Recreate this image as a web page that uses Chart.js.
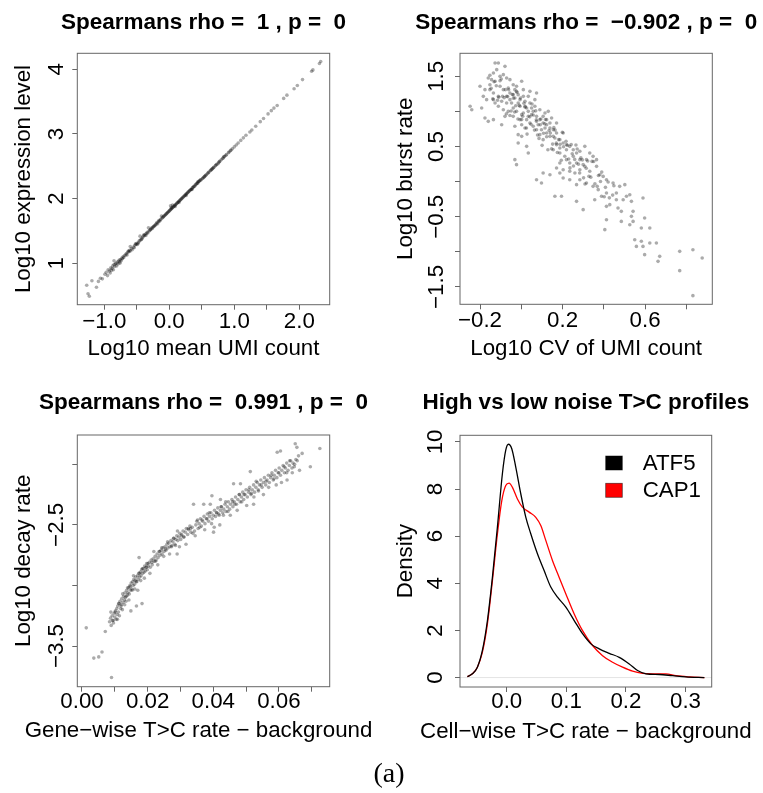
<!DOCTYPE html>
<html><head><meta charset="utf-8">
<script src="https://cdn.jsdelivr.net/npm/chart.js@4/dist/chart.umd.min.js"></script>
<style>
html,body{margin:0;padding:0;background:#fff;}
#wrap{position:relative;width:763px;height:793px;overflow:hidden;background:#fff;}
canvas{position:absolute;}
#cap{position:absolute;left:0;width:778px;top:759px;text-align:center;font-family:'Liberation Serif','Times New Roman',serif;font-size:28px;line-height:28px;color:#000;}
</style></head><body>
<div id="wrap">
<canvas id="c1" width="381" height="380" style="left:0;top:0"></canvas>
<canvas id="c2" width="382" height="380" style="left:381px;top:0"></canvas>
<canvas id="c3" width="381" height="380" style="left:0;top:380px"></canvas>
<canvas id="c4" width="382" height="380" style="left:381px;top:380px"></canvas>
<div id="cap">(a)</div>
</div>
<script>
// ---------- Panel 1: Log10 mean UMI count vs Log10 expression level ----------
const expressionPoints = [
[-1.27,0.66],[-1.25,0.53],[-1.23,0.49],[-1.19,0.73],[-1.12,0.63],[-1.09,0.72],[-1.06,0.77],[-1.03,0.76],[-0.99,0.83],[-0.97,0.86],[-0.95,0.81],[-0.94,0.90],[-0.92,0.88],[-0.91,0.85],[-0.90,0.93],[-0.88,0.92],[-0.87,0.96],[-0.86,0.90],[-0.85,0.98],[-0.84,0.95],[-0.83,0.99],[-0.82,1.00],[-0.81,0.96],[-0.80,1.02],[-0.79,0.99],[-0.78,1.03],[-0.77,1.05],[-0.76,1.02],[-0.75,1.06],[-0.74,1.04],[-0.73,1.08],[-0.72,1.07],[-0.71,1.10],[-0.70,1.09],[-0.69,1.12],[-0.67,1.13],[-0.66,1.15],[-0.65,1.13],[-0.64,1.17],[-0.62,1.18],[-0.61,1.20],[-0.60,1.19],[-0.58,1.23],[-0.57,1.21],[-0.55,1.25],[-0.54,1.24],[-0.53,1.28],[-0.51,1.29],[-0.50,1.31],[-0.49,1.29],[-0.47,1.33],[-0.46,1.35],[-0.45,1.42],[-0.44,1.36],[-0.42,1.38],[-0.41,1.40],[-0.40,1.42],[-0.38,1.43],[-0.37,1.45],[-0.35,1.46],[-0.34,1.48],[-0.33,1.47],[-0.31,1.50],[-0.30,1.51],[-0.28,1.53],[-0.27,1.55],[-0.26,1.54],[-0.24,1.57],[-0.23,1.58],[-0.21,1.60],[-0.20,1.61],[-0.19,1.63],[-0.17,1.64],[-0.16,1.66],[-0.15,1.65],[-0.14,1.67],[-0.12,1.73],[-0.11,1.70],[-0.10,1.71],[-0.08,1.73],[-0.07,1.74],[-0.06,1.75],[-0.04,1.77],[-0.03,1.78],[-0.02,1.79],[-0.01,1.80],[0.00,1.81],[0.02,1.83],[0.02,1.89],[0.03,1.84],[0.05,1.86],[0.06,1.87],[0.07,1.88],[0.09,1.90],[0.10,1.91],[0.11,1.92],[0.13,1.94],[0.14,1.95],[0.15,1.96],[0.17,1.98],[0.18,1.99],[0.20,2.01],[0.21,2.02],[0.23,2.04],[0.24,2.05],[0.26,2.07],[0.27,2.08],[0.29,2.10],[0.30,2.11],[0.32,2.13],[0.34,2.14],[0.35,2.16],[0.37,2.18],[0.39,2.19],[0.40,2.21],[0.42,2.23],[0.44,2.24],[0.45,2.26],[0.47,2.28],[0.49,2.29],[0.51,2.31],[0.53,2.33],[0.55,2.35],[0.57,2.37],[0.59,2.39],[0.61,2.41],[0.63,2.43],[0.65,2.45],[0.67,2.47],[0.69,2.49],[0.71,2.51],[0.73,2.53],[0.76,2.56],[0.78,2.58],[0.80,2.60],[0.83,2.63],[0.85,2.65],[0.88,2.68],[0.91,2.71],[0.94,2.74],[0.97,2.77],[1.00,2.80],[1.03,2.83],[1.06,2.86],[1.10,2.90],[1.14,2.94],[1.18,2.98],[1.24,3.03],[1.27,3.06],[1.33,3.12],[1.40,3.19],[1.45,3.24],[1.52,3.31],[1.57,3.36],[1.61,3.40],[1.66,3.44],[1.76,3.55],[1.81,3.60],[1.92,3.70],[1.97,3.75],[2.05,3.84],[2.19,3.97],[2.21,3.99],[2.31,4.09],[2.33,4.12],
[-0.48,1.31],[-0.43,1.37],[-0.36,1.43],[-0.29,1.52],[-0.22,1.58],[-0.13,1.68],[-0.05,1.76],[0.01,1.82],[0.04,1.85],[0.08,1.89],[0.12,1.93],[0.16,1.97],[0.19,2.00],[0.22,2.03],[0.25,2.06],[0.28,2.09],[0.31,2.12],[0.33,2.14],[0.36,2.17],[0.38,2.19],[0.41,2.22],[0.43,2.24],[0.46,2.27],[0.48,2.29],[0.52,2.32],[0.56,2.36],[0.60,2.40],[0.64,2.44],[0.68,2.48],[0.72,2.52],[0.77,2.57],[0.82,2.62],[0.87,2.67],[0.92,2.72],
[-0.60,1.26],[-0.85,1.04],[-0.32,1.55],[0.05,1.90],[-0.89,0.89],[-0.76,1.00],[-0.63,1.19],[-0.52,1.30],[-0.39,1.44],[-0.25,1.56],[-0.18,1.61],[-0.09,1.72],[0.03,1.86],[0.09,1.88],[0.15,1.94],[0.26,2.05],[0.35,2.14],[0.44,2.26],[0.54,2.34],[0.66,2.46],[0.75,2.54],[0.84,2.65],[0.95,2.75]
];
const umiTicks = [-1.0,-0.5,0,0.5,1.0,1.5,2.0];
const umiTickLabels = ['\u22121.0','','0.0','','1.0','','2.0'];
const exprTicks = [1,2,3,4];
const exprTickLabels = ['1','2','3','4'];

// ---------- Panel 2: Log10 CV of UMI count vs Log10 burst rate ----------
const burstPoints = [
[-0.127,1.690],[-0.111,1.690],[-0.079,1.642],[-0.119,1.595],[-0.135,1.547],[-0.160,1.476],[-0.144,1.453],[-0.127,1.429],[-0.103,1.500],[-0.087,1.524],[-0.071,1.476],[-0.055,1.453],[-0.039,1.381],[-0.023,1.358],[0.002,1.429],[-0.031,1.310],[-0.015,1.239],[-0.006,1.168],[-0.047,1.120],[-0.071,1.120],[-0.095,1.144],[-0.111,1.215],[-0.135,1.263],[-0.152,1.310],[-0.176,1.310],[-0.184,1.215],[-0.168,1.168],[-0.135,1.168],[-0.200,1.358],[-0.248,1.073],[-0.240,1.025],[-0.192,1.049],[-0.176,0.906],[-0.160,0.859],[-0.135,0.883],[-0.095,0.811],[-0.079,0.930],[-0.039,0.930],[-0.031,0.788],[0.002,0.811],[0.010,0.978],[0.026,1.049],[0.042,1.120],[0.066,1.168],[0.034,1.215],[0.058,1.001],[0.074,0.930],[0.090,0.883],[0.106,0.930],[0.123,0.883],[0.139,0.835],[0.171,0.835],[0.155,0.740],[0.123,0.693],[0.090,0.669],[0.106,0.598],[0.139,0.645],[0.171,0.693],[0.187,0.598],[0.203,0.693],[0.203,0.550],[0.171,0.527],[0.155,0.455],[0.187,0.408],[0.219,0.455],[0.235,0.503],[0.252,0.455],[0.268,0.408],[0.284,0.432],[0.308,0.503],[0.332,0.408],[0.348,0.360],[0.365,0.313],[0.316,0.313],[0.300,0.242],[0.268,0.265],[0.235,0.265],[0.219,0.313],[0.187,0.265],[0.171,0.194],[0.203,0.170],[0.235,0.147],[0.260,0.123],[0.284,0.170],[0.308,0.218],[0.332,0.147],[0.365,0.218],[0.381,0.099],[0.397,0.075],[0.413,0.028],[0.445,-0.019],[0.477,-0.067],[0.502,-0.043],[0.461,-0.162],[0.413,-0.162],[0.389,-0.209],[0.373,-0.114],[0.348,-0.067],[0.316,-0.019],[0.284,0.028],[0.268,-0.043],[0.235,0.028],[0.203,0.052],[0.187,0.123],[0.139,0.099],[0.106,0.123],[0.098,-0.019],[0.074,0.028],[0.034,0.408],[0.026,0.503],[0.002,0.645],[-0.015,0.669],[-0.031,0.313],[-0.023,0.242],[-0.015,0.550],[0.163,-0.209],[0.195,-0.209],[0.268,-0.281],[0.300,-0.399],[0.356,-0.257],[0.413,-0.352],[0.429,-0.328],[0.461,-0.257],[0.469,-0.376],[0.485,-0.423],[0.494,-0.257],[0.510,-0.209],[0.526,-0.186],[0.534,-0.281],[0.542,-0.423],[0.590,-0.233],[0.413,-0.542],[0.485,-0.566],[0.534,-0.494],[0.542,-0.566],[0.526,-0.613],[0.582,-0.660],[0.598,-0.518],[0.623,-0.660],[0.405,-0.684],[0.550,-0.827],[0.582,-0.850],[0.623,-0.874],[0.655,-0.874],[0.590,-0.922],[0.558,-0.922],[0.598,-1.040],[0.663,-1.135],[0.671,-1.064],[0.768,-0.993],[0.832,-0.969],[0.877,-1.088],[0.768,-1.268],[0.832,-1.624],
[0.050,1.049],[0.066,1.073],[0.090,1.025],[0.115,0.978],[0.131,1.001],[0.026,0.883],[0.042,0.835],[0.058,0.788],[0.074,0.740],[0.082,0.811],[0.098,0.740],[0.115,0.764],[0.139,0.764],[0.155,0.645],[0.018,0.764],[-0.006,0.883],[-0.055,1.263],[-0.063,1.334],[-0.039,1.239],[-0.023,1.286],[0.010,1.215],[0.018,1.144],[0.050,0.954],[-0.006,1.073],[-0.039,1.049],[-0.063,1.001],[-0.087,1.025],[-0.111,1.073],[-0.127,1.120],[-0.152,1.381],[-0.103,1.358],[-0.087,1.310],[-0.071,1.215],[0.010,1.310],[0.042,1.286],[0.074,1.263],[-0.015,1.120],[0.018,1.073],[0.034,1.001],[0.002,0.954],[-0.023,1.001],[-0.055,1.168],[-0.031,1.191],[0.074,0.859],[0.123,0.811],[0.147,0.906],[0.106,0.835],[0.163,0.622],[0.187,0.479],[0.219,0.527],[0.252,0.360],[0.284,0.313],
[-0.152,1.515],[-0.138,1.179],[-0.121,1.365],[-0.109,1.203],[-0.097,1.462],[-0.083,1.196],[-0.072,0.967],[-0.061,1.309],[-0.049,1.007],[-0.038,1.189],[-0.027,1.080],[-0.016,0.892],[-0.004,1.190],[0.007,0.932],[0.019,1.061],[0.028,0.677],[0.041,0.923],[0.052,1.105],[0.064,0.734],[0.073,0.880],[0.086,0.616],[0.095,0.893],[0.108,0.689],[0.117,0.886],[0.129,0.455],[0.141,0.693],[0.152,0.535],[0.164,0.734],[0.175,0.415],[0.188,0.531],[0.199,0.703],[0.211,0.361],[0.224,0.518],[0.236,0.196],[0.247,0.398],[0.259,0.317],[0.271,0.465],[0.283,0.124],[0.296,0.310],[0.309,-0.033],[0.322,0.293],[0.337,0.064],[0.351,0.287],[0.368,-0.067],[0.384,0.002],[0.402,-0.215],[0.421,-0.005],[0.443,-0.192],
[-0.146,1.329],[-0.132,1.423],[-0.115,1.159],[-0.103,1.437],[-0.091,1.216],[-0.077,1.310],[-0.066,1.211],[-0.055,0.943],[-0.043,1.241],[-0.032,0.993],[-0.021,1.274],[-0.010,1.086],[0.002,0.884],[0.013,1.116],[0.025,0.765],[0.034,0.931],[0.047,0.817],[0.058,0.949],[0.070,1.008],[0.079,0.664],[0.092,0.810],[0.101,0.517],[0.114,0.823],[0.123,0.640],[0.135,0.729],[0.147,0.467],[0.158,0.769],[0.170,0.548],[0.181,0.599],[0.194,0.305],[0.205,0.497],[0.217,0.575],[0.230,0.322],[0.242,0.530],[0.253,0.222],[0.265,0.521],[0.277,0.249],[0.289,0.338],[0.302,0.054],[0.315,0.191],[0.328,0.077],[0.343,0.288],[0.357,-0.029],[0.374,0.087],[0.390,0.136],[0.408,-0.081],[0.427,-0.231],[0.449,-0.058]
];
const cvTicks = [-0.2,0,0.2,0.4,0.6,0.8];
const cvTickLabels = ['\u22120.2','','0.2','','0.6',''];
const burstTicks = [-1.5,-1,-0.5,0,0.5,1,1.5];
const burstTickLabels = ['\u22121.5','','\u22120.5','','0.5','','1.5'];

// ---------- Panel 3: Gene-wise T>C rate vs Log10 decay rate ----------
const decayPoints = [
[0.0013,-3.35],[0.0036,-3.60],[0.0051,-3.59],[0.0061,-3.55],[0.0071,-3.38],[0.0090,-3.76],
[0.0084,-3.30],[0.0087,-3.27],[0.0089,-3.33],[0.0092,-3.25],[0.0093,-3.29],[0.0096,-3.31],
[0.0098,-3.23],[0.0100,-3.26],[0.0102,-3.21],[0.0104,-3.28],[0.0106,-3.19],[0.0107,-3.24],
[0.0109,-3.17],[0.0111,-3.22],[0.0112,-3.15],[0.0114,-3.25],[0.0116,-3.13],[0.0118,-3.19],
[0.0120,-3.16],[0.0121,-3.11],[0.0123,-3.20],[0.0125,-3.14],[0.0127,-3.09],[0.0129,-3.12],
[0.0131,-3.06],[0.0132,-3.10],[0.0134,-3.13],[0.0136,-3.04],[0.0138,-3.08],[0.0140,-3.06],
[0.0142,-3.02],[0.0144,-3.07],[0.0146,-3.00],[0.0148,-3.04],[0.0149,-3.21],[0.0150,-2.98],
[0.0152,-3.03],[0.0154,-2.97],[0.0156,-3.00],[0.0158,-2.95],[0.0160,-2.99],[0.0162,-2.96],
[0.0164,-2.93],[0.0166,-3.17],[0.0167,-2.97],[0.0169,-2.92],[0.0171,-2.95],[0.0173,-2.90],
[0.0174,-2.77],[0.0176,-2.93],[0.0178,-2.89],[0.0180,-2.92],[0.0182,-2.87],[0.0183,-3.15],
[0.0185,-2.90],[0.0187,-2.86],[0.0189,-2.89],[0.0191,-2.84],[0.0193,-2.88],[0.0195,-2.85],
[0.0197,-2.82],[0.0199,-2.87],[0.0202,-2.84],[0.0205,-2.81],[0.0208,-2.85],[0.0211,-2.79],
[0.0214,-2.83],[0.0217,-2.78],[0.0220,-2.80],[0.0223,-2.76],[0.0226,-2.79],[0.0229,-2.74],
[0.0232,-2.77],[0.0235,-2.72],[0.0238,-2.75],[0.0241,-2.71],[0.0244,-2.74],[0.0247,-2.69],
[0.0250,-2.72],[0.0253,-2.68],[0.0256,-2.71],[0.0259,-2.66],[0.0262,-2.69],[0.0265,-2.65],
[0.0268,-2.68],[0.0271,-2.63],[0.0274,-2.67],[0.0277,-2.64],[0.0280,-2.61],[0.0283,-2.66],
[0.0286,-2.62],[0.0289,-2.59],[0.0290,-2.74],[0.0292,-2.63],[0.0295,-2.60],[0.0298,-2.57],
[0.0301,-2.62],[0.0304,-2.58],[0.0308,-2.55],[0.0311,-2.60],[0.0315,-2.56],[0.0318,-2.53],
[0.0322,-2.58],[0.0325,-2.54],[0.0329,-2.51],[0.0332,-2.56],[0.0336,-2.52],[0.0340,-2.33],
[0.0343,-2.55],[0.0347,-2.50],[0.0350,-2.47],[0.0354,-2.53],[0.0357,-2.49],[0.0361,-2.45],
[0.0364,-2.51],[0.0368,-2.47],[0.0371,-2.33],[0.0372,-2.43],[0.0375,-2.49],[0.0379,-2.45],
[0.0382,-2.41],[0.0386,-2.47],[0.0389,-2.43],[0.0391,-2.33],[0.0393,-2.40],[0.0396,-2.26],
[0.0397,-2.45],[0.0400,-2.42],[0.0401,-2.56],[0.0404,-2.38],[0.0407,-2.43],[0.0411,-2.40],
[0.0414,-2.36],[0.0418,-2.42],[0.0420,-2.50],[0.0422,-2.29],[0.0422,-2.38],[0.0425,-2.35],
[0.0429,-2.40],[0.0432,-2.37],[0.0436,-2.33],[0.0439,-2.39],[0.0443,-2.35],[0.0446,-2.31],
[0.0450,-2.37],[0.0453,-2.33],[0.0457,-2.29],[0.0460,-2.35],[0.0462,-2.16],[0.0464,-2.31],
[0.0468,-2.27],[0.0471,-2.33],[0.0475,-2.29],[0.0479,-2.25],[0.0482,-2.31],[0.0483,-2.16],
[0.0486,-2.27],[0.0490,-2.23],[0.0493,-2.29],[0.0497,-2.25],[0.0500,-2.21],[0.0504,-2.27],
[0.0508,-2.23],[0.0511,-2.19],[0.0513,-2.06],[0.0515,-2.25],[0.0519,-2.21],[0.0523,-2.33],
[0.0523,-2.17],[0.0526,-2.23],[0.0530,-2.19],[0.0534,-2.15],[0.0537,-2.21],[0.0541,-2.17],
[0.0545,-2.13],[0.0549,-2.19],[0.0553,-2.15],[0.0556,-2.11],[0.0560,-2.17],[0.0564,-2.13],
[0.0568,-2.09],[0.0571,-2.15],[0.0575,-2.11],[0.0579,-2.07],[0.0583,-2.13],[0.0586,-2.09],
[0.0590,-2.05],[0.0594,-2.11],[0.0595,-1.90],[0.0598,-2.07],[0.0601,-2.03],[0.0605,-1.89],
[0.0605,-2.09],[0.0609,-2.05],[0.0613,-2.01],[0.0617,-2.07],[0.0620,-2.03],[0.0624,-1.99],
[0.0625,-2.13],[0.0628,-2.05],[0.0632,-2.01],[0.0636,-1.97],[0.0640,-2.03],[0.0643,-1.99],
[0.0647,-2.02],[0.0650,-1.83],[0.0652,-1.96],[0.0655,-1.86],[0.0660,-1.93],[0.0671,-1.91],
[0.0696,-2.02],[0.0725,-1.87],
[0.0088,-3.22],[0.0095,-3.29],[0.0101,-3.22],[0.0108,-3.28],[0.0113,-3.15],[0.0119,-3.17],[0.0124,-3.07],[0.0130,-3.16],[0.0135,-3.09],[0.0139,-3.02],
[0.0143,-3.12],[0.0147,-3.01],[0.0153,-3.04],[0.0157,-2.92],[0.0161,-3.03],[0.0165,-2.97],[0.0170,-3.04],[0.0175,-2.90],[0.0179,-2.96],[0.0184,-2.86],
[0.0190,-2.94],[0.0196,-2.85],[0.0201,-2.82],[0.0207,-2.90],[0.0213,-2.81],[0.0219,-2.72],[0.0224,-2.80],[0.0231,-2.83],[0.0237,-2.72],[0.0243,-2.69],
[0.0249,-2.76],[0.0255,-2.70],[0.0261,-2.64],[0.0267,-2.74],[0.0273,-2.68],[0.0279,-2.61],[0.0285,-2.67],[0.0291,-2.55],[0.0297,-2.68],[0.0303,-2.59],
[0.0310,-2.60],[0.0317,-2.66],[0.0324,-2.53],[0.0331,-2.53],[0.0338,-2.57],[0.0345,-2.59],[0.0352,-2.46],[0.0359,-2.52],[0.0366,-2.46],[0.0374,-2.54],
[0.0381,-2.45],[0.0388,-2.40],[0.0395,-2.49],[0.0403,-2.52],[0.0410,-2.40],[0.0417,-2.41],[0.0424,-2.35],[0.0431,-2.42],[0.0438,-2.31],[0.0445,-2.39],
[0.0452,-2.42],[0.0459,-2.31],[0.0466,-2.33],[0.0473,-2.38],[0.0480,-2.25],[0.0487,-2.31],[0.0494,-2.25],[0.0502,-2.34],[0.0509,-2.21],[0.0516,-2.24],
[0.0524,-2.27],[0.0531,-2.14],[0.0538,-2.22],[0.0546,-2.17],[0.0553,-2.25],[0.0561,-2.14],[0.0569,-2.19],[0.0577,-2.09],[0.0585,-2.12],[0.0592,-2.17],
[0.0600,-2.07],[0.0608,-2.15],[0.0616,-2.02],[0.0624,-2.07],[0.0633,-1.97],[0.0641,-2.07],[0.0648,-2.00],[0.0656,-1.97],[0.0663,-2.05]
];
const rateTicks = [0,0.01,0.02,0.03,0.04,0.05,0.06,0.07];
const rateTickLabels = ['0.00','','0.02','','0.04','','0.06',''];
const decayTicks = [-3.5,-3.0,-2.5,-2.0];
const decayTickLabels = ['\u22123.5','','\u22122.5',''];

// ---------- Panel 4: density of cell-wise T>C rate ----------
const seriesNames = ['ATF5','CAP1'];
const seriesColors = ['#000000','#ff0000'];
const atf5X = [-0.0661,-0.0577,-0.0493,-0.0409,-0.0325,-0.0241,-0.0157,-0.0073,-0.0017,0.0028,0.0084,0.0151,0.0235,0.0319,0.0403,0.0515,0.0627,0.0739,0.0852,0.0992,0.1132,0.1272,0.1412,0.1552,0.1720,0.1888,0.2056,0.2196,0.2336,0.2560,0.2784,0.3008,0.3317];
const atf5Y = [0.04,0.16,0.44,1.15,2.41,4.25,6.39,8.66,9.65,9.90,9.71,8.93,7.80,6.81,6.10,5.25,4.54,3.84,3.41,2.99,2.42,1.86,1.43,1.22,1.03,0.86,0.58,0.30,0.16,0.13,0.08,0.03,0.00];
const cap1X = [-0.0661,-0.0577,-0.0493,-0.0409,-0.0325,-0.0241,-0.0157,-0.0084,-0.0017,0.0039,0.0095,0.0179,0.0263,0.0375,0.0487,0.0571,0.0655,0.0767,0.0880,0.0992,0.1132,0.1272,0.1440,0.1608,0.1776,0.1944,0.2112,0.2280,0.2448,0.2672,0.2840,0.3064,0.3317];
const cap1Y = [0.04,0.16,0.44,1.08,2.28,4.11,6.09,7.50,8.15,8.25,8.07,7.58,7.23,7.02,6.80,6.45,5.82,4.97,4.25,3.55,2.70,1.99,1.36,0.93,0.65,0.44,0.27,0.18,0.16,0.16,0.08,0.03,0.00];
const cellTicks = [0,0.1,0.2,0.3];
const cellTickLabels = ['0.0','0.1','0.2','0.3'];
const densTicks = [0,2,4,6,8,10];
const densTickLabels = ['0','2','4','6','8','10'];

// ---------- helpers ----------
const FONT = "'Liberation Sans', Arial, Helvetica, sans-serif";
const FS = 22.3;
const AXIS_COLOR = '#666666';
const POINT_COLOR = 'rgba(0,0,0,0.33)';

const boxPlugin = {
  id: 'plotBox',
  afterDraw(chart) {
    const a = chart.chartArea, c = chart.ctx;
    c.save();
    c.strokeStyle = AXIS_COLOR; c.lineWidth = 1;
    c.strokeRect(a.left, a.top, a.right - a.left, a.bottom - a.top);
    c.restore();
  }
};

// main title and x-axis title, centred on the plot region without squeezing
const panelTextPlugin = {
  id: 'panelText',
  afterDraw(chart, args, o) {
    const a = chart.chartArea, c = chart.ctx, cx = (a.left + a.right) / 2;
    c.save();
    c.fillStyle = '#000'; c.textAlign = 'center'; c.textBaseline = 'middle';
    c.font = 'bold 22.5px ' + FONT;
    c.fillText(o.title, cx, o.titleY);
    c.font = FS + 'px ' + FONT;
    c.fillText(o.xTitle, cx + (o.xShift || 0), o.xTitleY);
    c.restore();
  }
};

const zeroLinePlugin = {
  id: 'zeroLine',
  beforeDatasetsDraw(chart) {
    const a = chart.chartArea, c = chart.ctx, y = chart.scales.y.getPixelForValue(0);
    c.save(); c.strokeStyle = '#e4e4e4'; c.lineWidth = 1;
    c.beginPath(); c.moveTo(a.left, y); c.lineTo(a.right, y); c.stroke(); c.restore();
  }
};

const insetLegendPlugin = {
  id: 'insetLegend',
  afterDraw(chart) {
    const a = chart.chartArea, c = chart.ctx;
    c.save();
    chart.data.datasets.forEach((ds, i) => {
      const x = a.right - 106, y = a.top + 20.7 + i * 27.3;
      c.fillStyle = ds.borderColor; c.fillRect(x, y, 16.6, 14);
      c.strokeStyle = 'rgba(0,0,0,0.6)'; c.lineWidth = 0.8; c.strokeRect(x, y, 16.6, 14);
      c.fillStyle = '#000'; c.font = FS + 'px ' + FONT; c.textBaseline = 'middle'; c.textAlign = 'left';
      c.fillText(ds.label, x + 37, y + 7.5);
    });
    c.restore();
  }
};

function axis(dir, a, size) {
  const t = {
    autoSkip: false, color: '#000', padding: a.tickPad,
    font: {family: FONT, size: FS, lineHeight: 1},
    callback: (v, i) => a.labels[i]
  };
  if (dir === 'x') { t.maxRotation = 0; t.minRotation = 0; }
  else { t.minRotation = 90; t.maxRotation = 90; t.crossAlign = 'center'; }
  const s = {
    type: 'linear', min: a.min, max: a.max, position: dir === 'x' ? 'bottom' : 'left',
    afterBuildTicks: sc => { sc.ticks = a.ticks.map(v => ({value: v})); },
    afterFit: sc => { if (dir === 'x') sc.height = size; else sc.width = size; },
    grid: {display: true, drawOnChartArea: false, drawTicks: true, tickLength: 5, color: AXIS_COLOR, lineWidth: 1},
    border: {display: false},
    ticks: t,
    title: {display: false}
  };
  if (dir === 'y') {
    s.title = {display: true, text: a.title, color: '#000',
      font: {family: FONT, size: FS, lineHeight: 1.2}, padding: {top: a.titlePad, bottom: 0}};
  }
  return s;
}

function panel(id, p) {
  const cv = document.getElementById(id);
  return new Chart(cv, {
    type: 'scatter',
    data: {datasets: p.datasets},
    options: {
      responsive: false, animation: false, devicePixelRatio: 1, events: [],
      layout: {padding: {left: 0, top: p.area.top, bottom: 0, right: cv.width - p.area.right}},
      plugins: {
        legend: {display: false}, tooltip: {enabled: false}, title: {display: false},
        panelText: {title: p.title, titleY: p.titleY, xTitle: p.x.title, xTitleY: p.x.titleY, xShift: p.x.shift}
      },
      scales: {
        x: axis('x', p.x, cv.height - p.area.bottom),
        y: axis('y', p.y, p.area.left)
      }
    },
    plugins: [boxPlugin, panelTextPlugin].concat(p.plugins || [])
  });
}

function scatterSet(points) {
  return {data: points.map(q => ({x: q[0], y: q[1]})), backgroundColor: POINT_COLOR,
    borderWidth: 0, pointRadius: 1.8, pointHoverRadius: 1.8};
}

panel('c1', {
  title: 'Spearmans rho =  1 , p =  0', titleY: 23,
  area: {left: 77.3, right: 329.7, top: 53.3, bottom: 304.7},
  x: {min: -1.415, max: 2.468, ticks: umiTicks, labels: umiTickLabels, tickPad: 1, title: 'Log10 mean UMI count', titleY: 349},
  y: {min: 0.36, max: 4.247, ticks: exprTicks, labels: exprTickLabels, tickPad: 9.5, title: 'Log10 expression level', titlePad: 10.6},
  datasets: [scatterSet(expressionPoints)]
});

panel('c2', {
  title: 'Spearmans rho =  \u22120.902 , p =  0', titleY: 23,
  area: {left: 79, right: 331.3, top: 53.3, bottom: 304.3},
  x: {min: -0.297, max: 0.926, ticks: cvTicks, labels: cvTickLabels, tickPad: 0.5, title: 'Log10 CV of UMI count', titleY: 348.5},
  y: {min: -1.747, max: 1.828, ticks: burstTicks, labels: burstTickLabels, tickPad: -3.5, title: 'Log10 burst rate', titlePad: 11.6},
  datasets: [scatterSet(burstPoints)]
});

panel('c3', {
  title: 'Spearmans rho =  0.991 , p =  0', titleY: 23,
  area: {left: 77.3, right: 329.7, top: 55, bottom: 306.7},
  x: {min: -0.00143, max: 0.0755, ticks: rateTicks, labels: rateTickLabels, tickPad: -1, title: 'Gene\u2212wise T>C rate \u2212 background', titleY: 351, shift: -5},
  y: {min: -3.836, max: -1.758, ticks: decayTicks, labels: decayTickLabels, tickPad: -6.5, title: 'Log10 decay rate', titlePad: 10.8},
  datasets: [scatterSet(decayPoints)]
});

function densitySet(name, color, xs, ys) {
  return {label: name, data: xs.map((x, i) => ({x: x, y: ys[i]})), showLine: true,
    borderColor: color, backgroundColor: color, borderWidth: 1.3, pointRadius: 0, pointHoverRadius: 0,
    cubicInterpolationMode: 'monotone', fill: false};
}

panel('c4', {
  title: 'High vs low noise T>C profiles', titleY: 23,
  area: {left: 79, right: 330.7, top: 55.3, bottom: 307},
  x: {min: -0.0785, max: 0.344, ticks: cellTicks, labels: cellTickLabels, tickPad: -1.3, title: 'Cell\u2212wise T>C rate \u2212 background', titleY: 352},
  y: {min: -0.40, max: 10.28, ticks: densTicks, labels: densTickLabels, tickPad: 6.8, title: 'Density', titlePad: 11},
  datasets: [densitySet(seriesNames[0], seriesColors[0], atf5X, atf5Y), densitySet(seriesNames[1], seriesColors[1], cap1X, cap1Y)],
  plugins: [zeroLinePlugin, insetLegendPlugin]
});
</script>
</body></html>
